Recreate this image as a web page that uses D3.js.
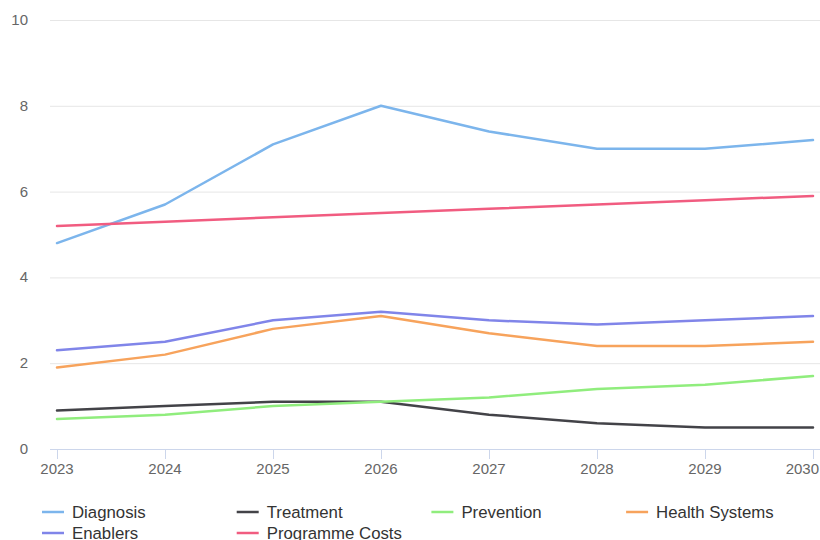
<!DOCTYPE html>
<html>
<head>
<meta charset="utf-8">
<script src="https://cdn.jsdelivr.net/npm/d3@7"></script>
<style>
	body { margin: 0; background: #fff; }
	svg { font-family: "Liberation Sans", Arial, sans-serif; display: block; }
</style>
</head>
<body>
<div id="chart"></div>
<script>
// chart values
const years = [2023, 2024, 2025, 2026, 2027, 2028, 2029, 2030];
const seriesNames = ["Diagnosis", "Treatment", "Prevention", "Health Systems", "Enablers", "Programme Costs"];
const diagnosis = [4.8, 5.7, 7.1, 8.0, 7.4, 7.0, 7.0, 7.2];
const treatment = [0.9, 1.0, 1.1, 1.1, 0.8, 0.6, 0.5, 0.5];
const prevention = [0.7, 0.8, 1.0, 1.1, 1.2, 1.4, 1.5, 1.7];
const healthSystems = [1.9, 2.2, 2.8, 3.1, 2.7, 2.4, 2.4, 2.5];
const enablers = [2.3, 2.5, 3.0, 3.2, 3.0, 2.9, 3.0, 3.1];
const programmeCosts = [5.2, 5.3, 5.4, 5.5, 5.6, 5.7, 5.8, 5.9];
const yTicks = [0, 2, 4, 6, 8, 10];

const colors = ["#7cb5ec", "#434348", "#90ed7d", "#f7a35c", "#8085e9", "#f15c80"];
const allValues = [diagnosis, treatment, prevention, healthSystems, enablers, programmeCosts];

const width = 820, height = 540;
const plotLeft = 50, plotRight = 820, plotTop = 20, plotBottom = 449;

const svg = d3.select("#chart").append("svg")
	.attr("width", width)
	.attr("height", height);

let x = d3.scalePoint()
	.domain(years)
	.range([57, 813]);

let y = d3.scaleLinear()
	.domain([0, 10])
	.range([plotBottom, plotTop]);

// grid lines
svg.append("g")
	.selectAll("line")
	.data(yTicks.filter(d => d > 0))
	.join("line")
	.attr("x1", plotLeft)
	.attr("x2", plotRight)
	.attr("y1", d => y(d) + 0.5)
	.attr("y2", d => y(d) + 0.5)
	.attr("stroke", "#e6e6e6")
	.attr("stroke-width", 1);

// y labels
svg.append("g")
	.selectAll("text")
	.data(yTicks)
	.join("text")
	.attr("x", 28)
	.attr("y", d => y(d) + 5)
	.attr("text-anchor", "end")
	.attr("fill", "#666666")
	.style("font-size", "15px")
	.text(d => d);

// x axis
const xAxis = svg.append("g");
xAxis.append("line")
	.attr("x1", plotLeft)
	.attr("x2", plotRight)
	.attr("y1", plotBottom + 0.5)
	.attr("y2", plotBottom + 0.5)
	.attr("stroke", "#ccd6eb");

xAxis.selectAll(".tick")
	.data(years)
	.join("line")
	.attr("class", "tick")
	.attr("x1", d => Math.round(x(d)) + 0.5)
	.attr("x2", d => Math.round(x(d)) + 0.5)
	.attr("y1", plotBottom)
	.attr("y2", plotBottom + 10)
	.attr("stroke", "#ccd6eb");

// last label gets pushed inside the edge
xAxis.selectAll("text")
	.data(years)
	.join("text")
	.attr("x", (d, i) => i === years.length - 1 ? 819 : x(d))
	.attr("y", 474)
	.attr("text-anchor", (d, i) => i === years.length - 1 ? "end" : "middle")
	.attr("fill", "#666666")
	.style("font-size", "15px")
	.text(d => d);

// lines
let line = d3.line()
	.x((d, i) => x(years[i]))
	.y(d => y(d));

svg.append("g")
	.selectAll("path")
	.data(allValues)
	.join("path")
	.attr("fill", "none")
	.attr("stroke", (d, i) => colors[i])
	.attr("stroke-width", 2.5)
	.attr("stroke-linejoin", "round")
	.attr("stroke-linecap", "round")
	.attr("d", line);

// legend
const legend = svg.append("g")
	.selectAll("g")
	.data(seriesNames)
	.join("g")
	.attr("transform", (d, i) => `translate(${42 + (i % 4) * 194.7},${512 + Math.floor(i / 4) * 21})`);

legend.append("line")
	.attr("x1", 0)
	.attr("x2", 22)
	.attr("y1", 0)
	.attr("y2", 0)
	.attr("stroke", (d, i) => colors[i])
	.attr("stroke-width", 2.5);

legend.append("text")
	.attr("x", 30)
	.attr("y", 6)
	.attr("fill", "#333333")
	.style("font-size", "16.8px")
	.text(d => d);
</script>
</body>
</html>
